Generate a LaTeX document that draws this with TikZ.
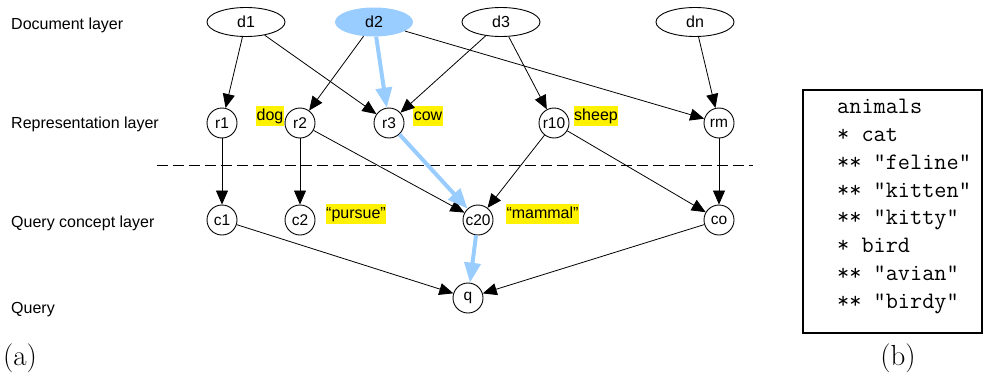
\documentclass[tikz,border=0pt]{standalone}
\usepackage{fontspec}
\newfontfamily\arial{Liberation Sans}
\usetikzlibrary{arrows.meta,shapes.geometric}
\definecolor{hlblue}{HTML}{99CCFF}
\tikzset{
  layerlabel/.style={anchor=base west, font=\arial\fontsize{16}{19}\selectfont, inner sep=0pt},
  docnode/.style={ellipse, draw, line width=0.9pt, minimum width=78pt, minimum height=29pt, inner sep=0pt,
    font=\arial\fontsize{16}{19}\selectfont},
  docactive/.style={ellipse, fill=hlblue, minimum width=78pt, minimum height=29pt, inner sep=0pt,
    font=\arial\fontsize{16}{19}\selectfont},
  termnode/.style={circle, draw, line width=0.9pt, minimum size=30pt, inner sep=0pt,
    font=\arial\fontsize{15.5}{18}\selectfont},
  tag/.style={fill=yellow, inner xsep=0.6pt, inner ysep=1pt, text height=13.5pt, text depth=4pt,
    font=\arial\fontsize{16}{19}\selectfont},
  link/.style={-{Triangle[length=14pt,width=12pt]}, line width=0.8pt},
  path/.style={-{Triangle[length=20pt,width=16pt]}, line width=4pt, draw=hlblue},
  boxline/.style={anchor=base west, inner sep=0pt, font=\ttfamily\fontsize{23.6}{28}\selectfont},
  caption/.style={inner sep=0pt, font=\fontsize{29}{34}\selectfont},
}
\begin{document}
\begin{tikzpicture}[x=1pt,y=-1pt]
\useasboundingbox (0,0) rectangle (984,380);

% layer names
\node[layerlabel] (L1) at (11,29) {Document layer};
\node[layerlabel] (L2) at (11,128) {Representation layer};
\node[layerlabel] (L3) at (11,227) {Query concept layer};
\node[layerlabel] (L4) at (11,313) {Query};

% document layer
\node[docnode]   (d1) at (246,22) {d1};
\node[docactive] (d2) at (374,22) {d2};
\node[docnode]   (d3) at (501,22) {d3};
\node[docnode]   (dn) at (695,22) {dn};

% representation layer
\node[termnode] (r1)  at (222,123) {r1};
\node[termnode] (r2)  at (300,123) {r2};
\node[termnode] (r3)  at (389,123) {r3};
\node[termnode] (r10) at (554,123) {r10};
\node[termnode] (rm)  at (719,123) {rm};

% query concept layer
\node[termnode] (c1)  at (222,220) {c1};
\node[termnode] (c2)  at (300,220) {c2};
\node[termnode] (c20) at (478,220) {c20};
\node[termnode] (co)  at (719,220) {co};

% query
\node[termnode] (q) at (468,298) {q};

% word tags
\node[tag] (tdog)    at (270,116) {dog};
\node[tag] (tcow)    at (428,116) {cow};
\node[tag] (tsheep)  at (596,116) {sheep};
\node[tag] (tpursue) at (356,214) {“pursue”};
\node[tag] (tmammal) at (542.5,214) {“mammal”};

% layer separator
\coordinate (sepL) at (157,165);
\coordinate (sepR) at (753,165);
\draw[line width=0.8pt, dash pattern=on 11pt off 5pt] (sepL) -- (sepR);

% links
\draw[link] (d1) -- (r1);
\draw[link] (d1) -- (r3);
\draw[link] (d2) -- (r2);
\draw[link] (d2) -- (rm);
\draw[link] (d3) -- (r3);
\draw[link] (d3) -- (r10);
\draw[link] (dn) -- (rm);
\draw[link] (r1) -- (c1);
\draw[link] (r2) -- (c2);
\draw[link] (r2) -- (c20);
\draw[link] (r10) -- (c20);
\draw[link] (r10) -- (co);
\draw[link] (rm) -- (co);
\draw[link] (c1) -- (q);
\draw[link] (co) -- (q);

% highlighted path
\draw[path] (d2) -- (r3);
\draw[path] (r3) -- (c20);
\draw[path] (c20) -- (q);

% thesaurus box
\node[draw, line width=1.8pt, minimum width=179pt, minimum height=243pt, inner sep=0pt] (box) at (892.5,211.5) {};
\node[boxline] (b1) at (837,113) {animals};
\node[boxline] (b2) at (837,141) {* cat};
\node[boxline] (b3) at (837,169) {** "feline"};
\node[boxline] (b4) at (837,197) {** "kitten"};
\node[boxline] (b5) at (837,224) {** "kitty"};
\node[boxline] (b6) at (837,252) {* bird};
\node[boxline] (b7) at (837,280) {** "avian"};
\node[boxline] (b8) at (837,308) {** "birdy"};

% sub-figure captions
\node[caption] (capa) at (20,358) {(a)};
\node[caption] (capb) at (898,358) {(b)};
\end{tikzpicture}
\end{document}
